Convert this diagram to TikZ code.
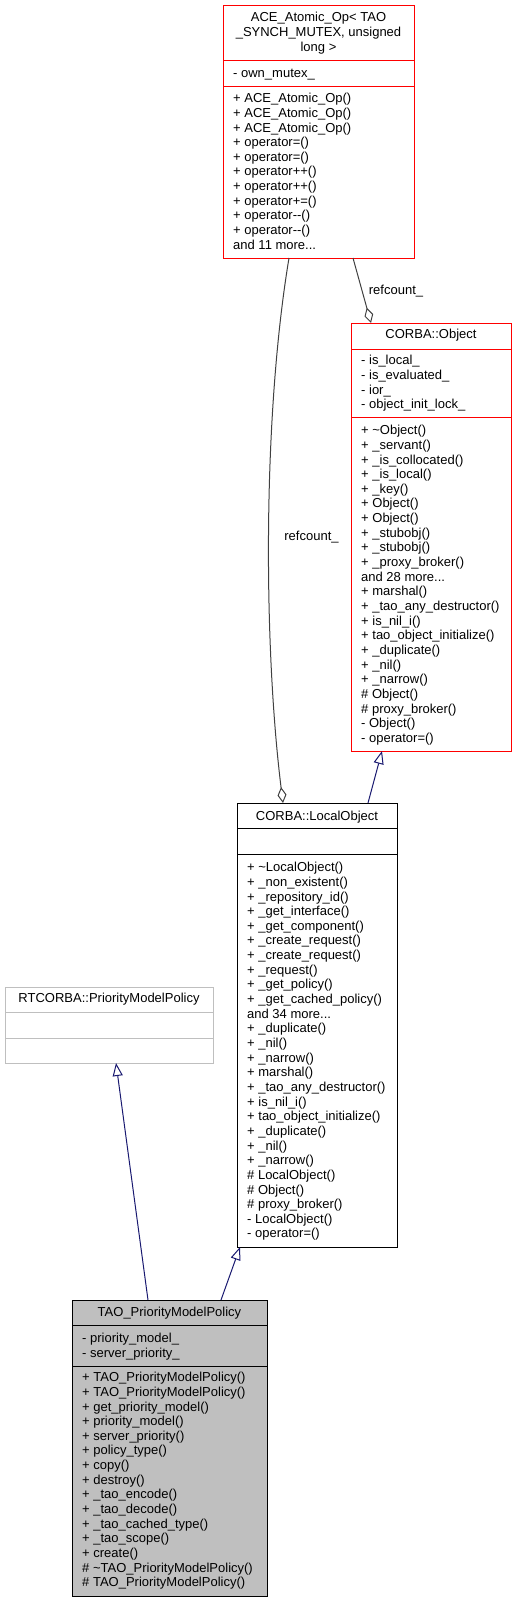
\documentclass[tikz,border=0pt]{standalone}
\usepackage{fontspec}
\setmainfont{Liberation Sans}
\usetikzlibrary{arrows.meta,calc}
\definecolor{edgeblue}{HTML}{191970}
\definecolor{edgegray}{HTML}{404040}
\definecolor{boxgray}{HTML}{BFBFBF}
\newcommand\mdots{.{}.{}.}
\newcommand\memberlist[4]{%
  \foreach \t [count=\i] in {#4} {%
    \node[mem] (#1-\i) at ({#2},{#3+4.7+14.65*(\i-1)}) {\t};}}
\begin{document}
\begin{tikzpicture}[x=1pt,y=-1pt,
  txt/.style={font=\fontsize{13}{14.65}\selectfont, inner sep=0pt},
  mem/.style={txt, anchor=base west},
  ttl/.style={txt, anchor=base},
  cls/.style={anchor=north west, inner sep=0pt, outer sep=0pt, line width=1pt},
  inh/.style={draw=edgeblue, line width=1pt, -{Triangle[fill=white,length=13pt,width=10pt]}},
  agg/.style={draw=edgegray, line width=1pt, -{Diamond[fill=white,length=16pt,width=9pt]}}
]
\useasboundingbox (0,0) rectangle (516,1603);
% ---------- ACE_Atomic_Op ----------
\node[cls, draw=red, minimum width=191pt, minimum height=252pt] (ace) at (223,6) {};
\draw[red, line width=1pt] (223,61) -- (414,61) (223,86) -- (414,86);
\node[ttl] (ace-t1) at (318.5,21.7) {ACE\_Atomic\_Op< TAO};
\node[ttl] (ace-t2) at (318.5,36.4) {\_SYNCH\_MUTEX, unsigned};
\node[ttl] (ace-t3) at (318.5,51.1) {long >};
\memberlist{ace-a}{233}{73}{- own\_mutex\_}
\memberlist{ace-m}{233}{98}{+ ACE\_Atomic\_Op(),+ ACE\_Atomic\_Op(),+ ACE\_Atomic\_Op(),+ operator=(),+ operator=(),+ operator++(),+ operator++(),+ operator+=(),+ operator-{}-(),+ operator-{}-(),and 11 more\mdots}
% ---------- CORBA::Object ----------
\node[cls, draw=red, minimum width=160pt, minimum height=428pt] (obj) at (351,323) {};
\draw[red, line width=1pt] (351,349) -- (511,349) (351,417) -- (511,417);
\node[ttl] (obj-t) at (431,338.7) {CORBA::Object};
\memberlist{obj-a}{361}{360}{- is\_local\_,- is\_evaluated\_,- ior\_,- object\_init\_lock\_}
\memberlist{obj-m}{361}{430}{+ \textasciitilde Object(),+ \_servant(),+ \_is\_collocated(),+ \_is\_local(),+ \_key(),+ Object(),+ Object(),+ \_stubobj(),+ \_stubobj(),+ \_proxy\_broker(),and 28 more\mdots,+ marshal(),+ \_tao\_any\_destructor(),+ is\_nil\_i(),+ tao\_object\_initialize(),+ \_duplicate(),+ \_nil(),+ \_narrow(),\# Object(),\# proxy\_broker(),- Object(),- operator=()}
% ---------- CORBA::LocalObject ----------
\node[cls, draw=black, minimum width=160pt, minimum height=444pt] (lo) at (237,803) {};
\draw[black, line width=1pt] (237,828) -- (397,828) (237,854) -- (397,854);
\node[ttl] (lo-t) at (317,820) {CORBA::LocalObject};
\memberlist{lo-m}{247}{867}{+ \textasciitilde LocalObject(),+ \_non\_existent(),+ \_repository\_id(),+ \_get\_interface(),+ \_get\_component(),+ \_create\_request(),+ \_create\_request(),+ \_request(),+ \_get\_policy(),+ \_get\_cached\_policy(),and 34 more\mdots,+ \_duplicate(),+ \_nil(),+ \_narrow(),+ marshal(),+ \_tao\_any\_destructor(),+ is\_nil\_i(),+ tao\_object\_initialize(),+ \_duplicate(),+ \_nil(),+ \_narrow(),\# LocalObject(),\# Object(),\# proxy\_broker(),- LocalObject(),- operator=()}
% ---------- RTCORBA::PriorityModelPolicy ----------
\node[cls, draw=boxgray, minimum width=208pt, minimum height=76pt] (rt) at (5,987) {};
\draw[boxgray, line width=1pt] (5,1012) -- (213,1012) (5,1038) -- (213,1038);
\node[ttl] (rt-t) at (109,1002.7) {RTCORBA::PriorityModelPolicy};
% ---------- TAO_PriorityModelPolicy ----------
\node[cls, draw=black, fill=boxgray, minimum width=195pt, minimum height=296pt] (tao) at (72,1300) {};
\draw[black, line width=1pt] (72,1325) -- (267,1325) (72,1366) -- (267,1366);
\node[ttl] (tao-t) at (169.5,1316.4) {TAO\_PriorityModelPolicy};
\memberlist{tao-a}{82}{1338}{- priority\_model\_,- server\_priority\_}
\memberlist{tao-m}{82}{1377}{+ TAO\_PriorityModelPolicy(),+ TAO\_PriorityModelPolicy(),+ get\_priority\_model(),+ priority\_model(),+ server\_priority(),+ policy\_type(),+ copy(),+ destroy(),+ \_tao\_encode(),+ \_tao\_decode(),+ \_tao\_cached\_type(),+ \_tao\_scope(),+ create(),\# \textasciitilde TAO\_PriorityModelPolicy(),\# TAO\_PriorityModelPolicy()}
% ---------- connectors ----------
\draw[inh] ([xshift=76pt]tao.north west) -- ([xshift=111pt]rt.south west);
\draw[inh] ([xshift=149pt]tao.north west) -- ([xshift=3pt]lo.south west);
\draw[inh] ([xshift=131pt]lo.north west) -- ([xshift=31pt]obj.south west);
\draw[agg] ([xshift=130pt]ace.south west) -- ([xshift=20pt]obj.north west);
\node[ttl] (lbl1) at (396,294.7) {refcount\_};
\draw[agg] ([xshift=66pt]ace.south west) .. controls (262,420) and (264,650) .. ([xshift=46pt]lo.north west);
\node[ttl] (lbl2) at (311.5,540.7) {refcount\_};
\end{tikzpicture}
\end{document}
